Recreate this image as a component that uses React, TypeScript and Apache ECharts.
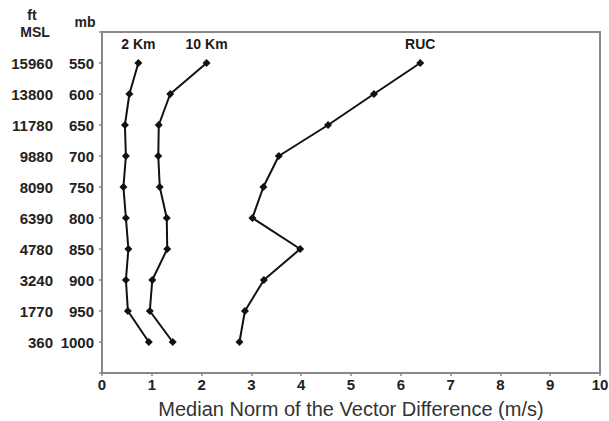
import React, { useEffect, useRef } from "react";
import * as echarts from "echarts";

const pressureLevels = [550, 600, 650, 700, 750, 800, 850, 900, 950, 1000];
const heightsFt = ["15960", "13800", "11780", "9880", "8090", "6390", "4780", "3240", "1770", "360"];
const km2Values = [0.73, 0.55, 0.46, 0.48, 0.43, 0.48, 0.53, 0.48, 0.52, 0.94];
const km10Values = [2.1, 1.37, 1.14, 1.13, 1.16, 1.3, 1.31, 1.01, 0.96, 1.42];
const rucValues = [6.39, 5.46, 4.54, 3.55, 3.24, 3.02, 3.98, 3.25, 2.87, 2.76];
const seriesNames = ["2 Km", "10 Km", "RUC"];
const xTicks = [0, 1, 2, 3, 4, 5, 6, 7, 8, 9, 10];

const FONT = "'Liberation Sans', Arial, sans-serif";

function buildData(vals: number[], name: string) {
  return vals.map((v, i) => {
    if (i === 0) {
      return {
        value: [v, pressureLevels[i]],
        label: {
          show: true,
          position: "top",
          distance: 8,
          formatter: name,
          fontFamily: FONT,
          fontWeight: "bold",
          fontSize: 14,
          color: "#1a1a1a",
        },
      };
    }
    return { value: [v, pressureLevels[i]] };
  });
}

export default function App() {
  const ref = useRef<HTMLDivElement>(null);
  useEffect(() => {
    if (!ref.current) return;
    const chart = echarts.init(ref.current, null, { renderer: "svg" });
    const allSeries = [km2Values, km10Values, rucValues];
    chart.setOption({
      animation: false,
      backgroundColor: "#ffffff",
      grid: {
        left: 102,
        right: 9,
        top: 32,
        bottom: 48,
        show: true,
        borderColor: "#888888",
        borderWidth: 2,
        outerBoundsMode: "none",
        containLabel: false,
      },
      graphic: [
        { type: "text", x: 32, y: 15, style: { text: "ft", font: `bold 14px ${FONT}`, fill: "#222", align: "center", verticalAlign: "middle" } },
        { type: "text", x: 35, y: 32, style: { text: "MSL", font: `bold 14px ${FONT}`, fill: "#222", align: "center", verticalAlign: "middle" } },
        { type: "text", x: 85, y: 22, style: { text: "mb", font: `bold 14px ${FONT}`, fill: "#222", align: "center", verticalAlign: "middle" } },
      ],
      xAxis: {
        type: "value",
        min: 0,
        max: 10,
        interval: 1,
        splitLine: { show: false },
        axisLine: { show: true, lineStyle: { color: "#888888", width: 2 } },
        axisTick: { show: true, length: 3, lineStyle: { color: "#888888", width: 1.5 } },
        axisLabel: {
          margin: 4,
          fontFamily: FONT,
          fontWeight: "bold",
          fontSize: 15,
          color: "#222",
          formatter: (v: number) => (xTicks.includes(v) ? String(v) : ""),
        },
        name: "Median Norm of the Vector Difference (m/s)",
        nameLocation: "middle",
        nameGap: 26,
        nameTextStyle: { fontFamily: FONT, fontSize: 20, color: "#333" },
      },
      yAxis: {
        type: "value",
        inverse: true,
        min: 500,
        max: 1050,
        interval: 50,
        splitLine: { show: false },
        axisLine: { show: true, lineStyle: { color: "#888888", width: 2 } },
        axisTick: { show: true, length: 3, lineStyle: { color: "#888888", width: 1.5 } },
        axisLabel: {
          margin: 8,
          formatter: (v: number) => {
            const i = pressureLevels.indexOf(v);
            if (i < 0) return "";
            return `{ft|${heightsFt[i]}}{mb|${pressureLevels[i]}}`;
          },
          rich: {
            ft: { width: 50, align: "right", fontFamily: FONT, fontWeight: "bold", fontSize: 15, color: "#222" },
            mb: { width: 41, align: "right", fontFamily: FONT, fontWeight: "bold", fontSize: 15, color: "#222" },
          },
        },
      },
      series: allSeries.map((vals, k) => ({
        name: seriesNames[k],
        type: "line",
        data: buildData(vals, seriesNames[k]),
        symbol: "diamond",
        symbolSize: 8,
        lineStyle: { color: "#111", width: 2 },
        itemStyle: { color: "#111" },
      })),
    });
    return () => chart.dispose();
  }, []);
  return <div ref={ref} style={{ width: 609, height: 421, position: "absolute", left: 0, top: 0 }} />;
}
